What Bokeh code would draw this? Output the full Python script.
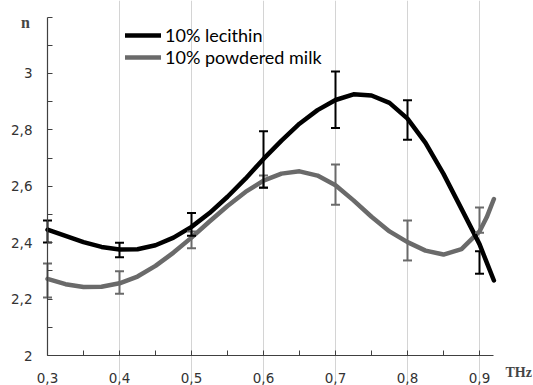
from bokeh.plotting import figure
from bokeh.models import FixedTicker, Whisker, TeeHead, ColumnDataSource, Label, Legend, LegendItem
from bokeh.embed import file_html
from bokeh.resources import INLINE

# ---- data ----
freq = [0.3, 0.4, 0.5, 0.6, 0.7, 0.8, 0.9]
lecithin_mean = [2.44, 2.374, 2.465, 2.695, 2.907, 2.835, 2.33]
lecithin_err = [0.039, 0.026, 0.04, 0.10, 0.10, 0.07, 0.04]
milk_mean = [2.266, 2.259, 2.41, 2.617, 2.606, 2.408, 2.48]
milk_err = [0.06, 0.04, 0.03, 0.021, 0.071, 0.071, 0.045]

curve_x = [0.30, 0.325, 0.35, 0.375, 0.40, 0.425, 0.45, 0.475, 0.50, 0.525, 0.55, 0.575,
           0.60, 0.625, 0.65, 0.675, 0.70, 0.725, 0.75, 0.775, 0.80, 0.825, 0.85, 0.875,
           0.90, 0.91, 0.92]
lecithin_curve = [2.446, 2.424, 2.402, 2.385, 2.376, 2.377, 2.391, 2.418, 2.456, 2.505, 2.563, 2.627,
                  2.697, 2.762, 2.822, 2.870, 2.906, 2.926, 2.922, 2.896, 2.840, 2.754, 2.644, 2.520,
                  2.395, 2.33, 2.266]
milk_curve = [2.272, 2.253, 2.243, 2.244, 2.256, 2.280, 2.318, 2.365, 2.418, 2.475, 2.530, 2.580,
              2.620, 2.645, 2.653, 2.638, 2.604, 2.550, 2.492, 2.440, 2.402, 2.372, 2.358, 2.377,
              2.440, 2.49, 2.555]

series_names = ["10% lecithin", "10% powdered milk"]
x_ticks = [0.3, 0.4, 0.5, 0.6, 0.7, 0.8, 0.9]
x_tick_labels = ["0,3", "0,4", "0,5", "0,6", "0,7", "0,8", "0,9"]
x_minor = [0.35, 0.45, 0.55, 0.65, 0.75, 0.85]
y_ticks = [2.0, 2.2, 2.4, 2.6, 2.8, 3.0]
y_tick_labels = ["2", "2,2", "2,4", "2,6", "2,8", "3"]
y_minor = [2.1, 2.3, 2.5, 2.7, 2.9, 3.1, 3.2]
x_bounds = (0.3, 0.92)
y_bounds = (2.0, 3.2)
x_title = "THz"
y_title = "n"

BLACK = "#000000"
GRAY = "#6a6a6a"
AXIS = "#404040"

p = figure(width=533, height=385, x_range=(0.234722, 0.975), y_range=(1.893617, 3.258865),
           output_backend="svg", toolbar_location=None,
           min_border_left=0, min_border_right=0, min_border_top=0, min_border_bottom=0)
p.outline_line_color = None
p.background_fill_color = "white"

# axes
for ax in (p.xaxis[0], p.yaxis[0]):
    ax.axis_line_color = AXIS
    ax.axis_line_width = 1.2
    ax.major_tick_in = 5
    ax.major_tick_out = 0
    ax.minor_tick_in = 5
    ax.minor_tick_out = 0
    ax.major_tick_line_color = AXIS
    ax.minor_tick_line_color = AXIS
    ax.major_label_text_font = "DejaVu Sans"
    ax.major_label_text_font_size = "13.5px"
    ax.major_label_text_color = "#333333"

p.xaxis[0].fixed_location = y_bounds[0]
p.xaxis[0].bounds = x_bounds
p.xaxis[0].ticker = FixedTicker(ticks=x_ticks, minor_ticks=x_minor)
p.xaxis[0].major_label_overrides = dict(zip(x_ticks, x_tick_labels))
p.xaxis[0].major_label_standoff = 17
p.yaxis[0].fixed_location = x_bounds[0]
p.yaxis[0].bounds = y_bounds
p.yaxis[0].ticker = FixedTicker(ticks=y_ticks, minor_ticks=y_minor)
p.yaxis[0].major_label_overrides = dict(zip(y_ticks, y_tick_labels))
p.yaxis[0].major_label_standoff = 15

p.xgrid.ticker = FixedTicker(ticks=x_ticks[1:])
p.xgrid.bounds = y_bounds
p.xgrid.grid_line_color = "#d4d4d4"
p.xgrid.grid_line_width = 1
p.ygrid.visible = False

# error bars
def add_errors(mean, err, color):
    src = ColumnDataSource(dict(x=freq,
                                upper=[m + e for m, e in zip(mean, err)],
                                lower=[m - e for m, e in zip(mean, err)]))
    w = Whisker(base="x", upper="upper", lower="lower", source=src,
                line_color=color, line_width=2,
                upper_head=TeeHead(size=9, line_color=color, line_width=2),
                lower_head=TeeHead(size=9, line_color=color, line_width=2),
                level="glyph")
    p.add_layout(w)

add_errors(milk_mean, milk_err, GRAY)
add_errors(lecithin_mean, lecithin_err, BLACK)

r_milk = p.line(curve_x, milk_curve, line_width=4.5, line_color=GRAY, line_join="round", line_cap="round")
r_lec = p.line(curve_x, lecithin_curve, line_width=4.5, line_color=BLACK, line_join="round", line_cap="round")

legend = Legend(items=[LegendItem(label=series_names[0], renderers=[r_lec]),
                       LegendItem(label=series_names[1], renderers=[r_milk])],
                location=(125, 317), glyph_width=36, glyph_height=18, label_height=18,
                spacing=-3, padding=0, margin=0, label_standoff=4,
                label_text_font="Lato", label_text_font_size="18px",
                label_text_color="#000000",
                border_line_color=None, background_fill_alpha=0)
p.add_layout(legend)

p.add_layout(Label(x=0.2694, y=3.181, text=y_title,
                   text_font="Liberation Serif", text_font_style="bold",
                   text_font_size="16px", text_align="center", text_baseline="middle"))
p.add_layout(Label(x=0.936, y=1.94, text=x_title,
                   text_font="Liberation Serif", text_font_style="bold",
                   text_font_size="14px", text_align="left", text_baseline="middle"))

open("out.html", "w").write(file_html(p, INLINE))
